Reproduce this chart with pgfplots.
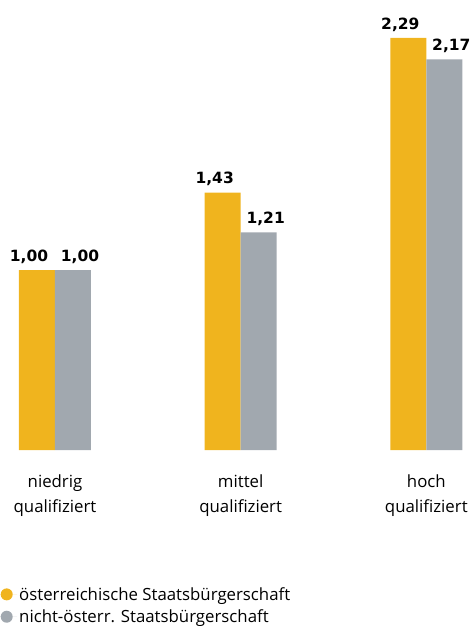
\documentclass[border=0pt]{standalone}
\usepackage{pgfplots}
\pgfplotsset{compat=1.18}
\usepackage{fontspec}
\setmainfont{Open Sans}
\newfontfamily\zahlen{DejaVu Sans}
\definecolor{gelb}{HTML}{F0B41E}
\definecolor{grau}{HTML}{A1A8AF}
\begin{document}
\begin{tikzpicture}
\begin{axis}[
  at={(0pt,0pt)}, anchor=south west,
  scale only axis, width=472pt, height=450pt,
  xmin=-0.29618, xmax=2.24556, ymin=0, ymax=2.5,
  ybar=0pt, bar width=36pt,
  axis line style={draw=none}, ytick=\empty,
  xtick={0,1,2}, major tick length=0pt,
  xticklabels={{niedrig\\qualifiziert},{mittel\\qualifiziert},{hoch\\qualifiziert}},
  xticklabel style={align=center, font=\fontsize{16.8}{25}\selectfont, yshift=-21pt},
  nodes near coords={\pgfmathprintnumber[fixed,fixed zerofill,precision=2,use comma,assume math mode=true]{\pgfplotspointmeta}},
  every node near coord/.append style={font=\zahlen\bfseries\fontsize{15.5}{15.5}\selectfont, yshift=3pt},
  legend style={at={(rel axis cs:0,-0.30)}, anchor=north west, draw=none, fill=none,
    font=\fontsize{16.8}{16.8}\selectfont, row sep=4pt, inner sep=0pt},
  legend cell align=left,
  legend image code/.code={\fill (6.5pt,0pt) circle (6pt); \path (0pt,0pt) -- (17pt,0pt);},
  clip=false,
]
\addplot[fill=gelb, draw=none, every node near coord/.append style={xshift=-8pt}]
  coordinates {(0,1.00) (1,1.43) (2,2.29)};
\addplot[fill=grau, draw=none, every node near coord/.append style={xshift=7pt}]
  coordinates {(0,1.00) (1,1.21) (2,2.17)};
\legend{österreichische Staatsbürgerschaft, nicht-österr. Staatsbürgerschaft}
\end{axis}
\path[use as bounding box] (0pt,-176pt) rectangle (472pt,450pt);
\end{tikzpicture}
\end{document}
